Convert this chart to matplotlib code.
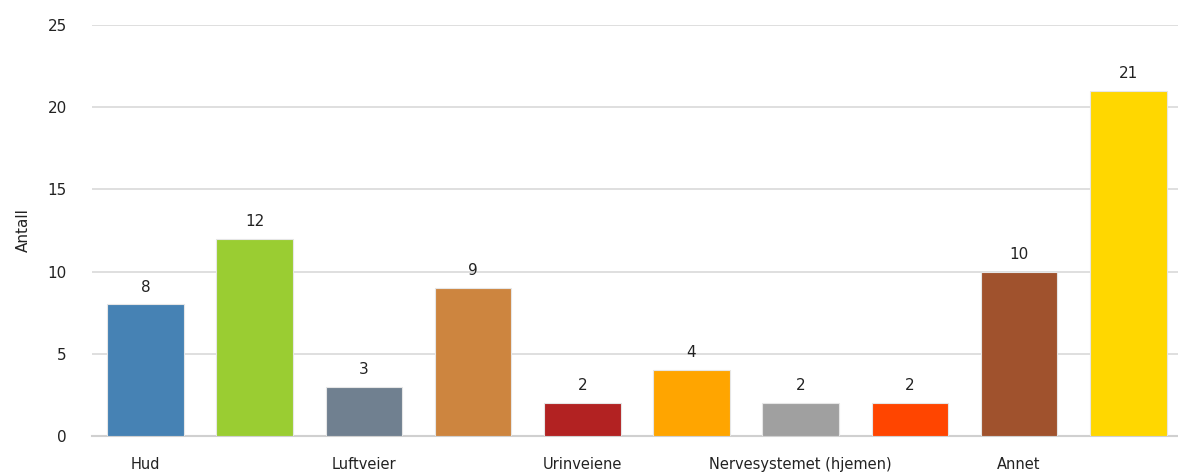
import matplotlib

matplotlib.use("Agg")
import matplotlib.pyplot as plt

categories = ["Hud", "", "Luftveier", "", "Urinveiene", "", "Nervesystemet (hjemen)", "", "Annet", ""]
values = [8, 12, 3, 9, 2, 4, 2, 2, 10, 21]
colors = ["#4682B4", "#9ACD32", "#708090", "#CD853F", "#B22222",
          "#FFA500", "#A0A0A0", "#FF4500", "#A0522D", "#FFD700"]
y_ticks = [0, 5, 10, 15, 20, 25]

fig = plt.figure(figsize=(11.78, 4.75), dpi=100)
ax = fig.add_axes([92 / 1178, 39 / 475, 1 - 92 / 1178, (436 - 25) / 475])

x = range(len(values))
bars = ax.bar(x, values, width=0.70, color=colors, edgecolor="#E6E6E6", linewidth=0.8, zorder=3)
for bar, v in zip(bars, values):
    ax.text(bar.get_x() + bar.get_width() / 2, v + 0.6, str(v),
            ha="center", va="bottom", fontsize=11, color="#222222")

ax.set_xlim(-0.49, 9.455)
ax.set_ylim(0, 25)
ax.set_yticks(y_ticks)
ax.set_xticks(list(x))
ax.set_xticklabels(categories, fontsize=10.5, color="#222222")
ax.tick_params(axis="x", length=0, pad=15)
ax.tick_params(axis="y", length=0, pad=18, labelsize=11, labelcolor="#222222")
ax.grid(axis="y", color="#D9D9D9", linewidth=1.2, zorder=0)
for side in ["top", "right", "left"]:
    ax.spines[side].set_visible(False)
ax.spines["bottom"].set_color("#D0D0D0")
ax.spines["bottom"].set_linewidth(1.5)
ax.set_ylabel("Antall", fontsize=11, color="#222222", labelpad=12)

fig.savefig("out.png", dpi=100)
